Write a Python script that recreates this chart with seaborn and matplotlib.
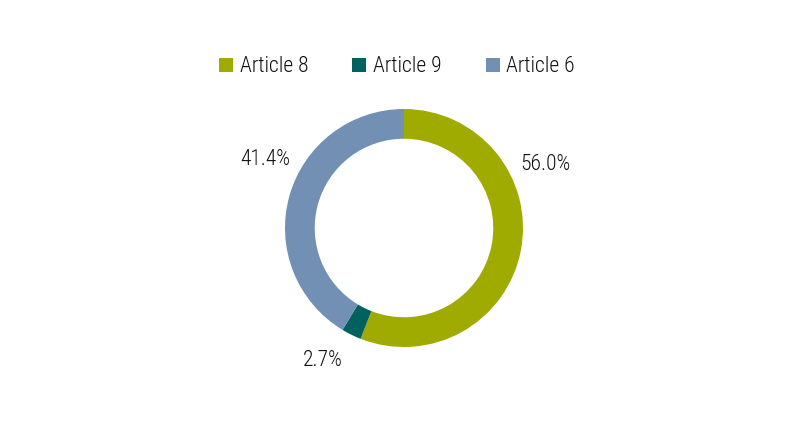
import matplotlib
matplotlib.use("Agg")
import matplotlib.pyplot as plt
import seaborn as sns
import numpy as np
from matplotlib.patches import Patch
from matplotlib import font_manager

categories = ["Article 8", "Article 9", "Article 6"]
values = [56.0, 2.7, 41.4]
colors = ["#a0ab00", "#00615f", "#7290b4"]

sns.set_theme(style="white")
names = {f.name for f in font_manager.fontManager.ttflist}
fam = "DejaVu Sans"
for cand in ["Roboto Condensed", "Liberation Sans Narrow", "Open Sans Condensed"]:
    if cand in names:
        fam = cand
        break
plt.rcParams["font.family"] = [fam, "DejaVu Sans"]
plt.rcParams["font.stretch"] = "condensed"
plt.rcParams["font.weight"] = "light"

fig = plt.figure(figsize=(7.93, 4.48), dpi=100)
ax = fig.add_axes([(404 - 119) / 793, 1 - (228 + 119) / 448, 238 / 793, 238 / 448])

wedges, texts = ax.pie(values, colors=colors, startangle=90, counterclock=False,
                       wedgeprops=dict(width=0.25, edgecolor="none", linewidth=0),
                       labels=[f"{v:.1f}%" for v in values], labeldistance=1.3,
                       textprops=dict(fontsize=15.5, color="#111111", fontweight="light"))
ax.set_aspect("equal")
ax.set_xlim(-1, 1)
ax.set_ylim(-1, 1)

# label placement (angles in degrees, radius in pie units)
label_pos = [(25, 1.31), (238, 1.29), (153, 1.31)]
for t, (ang, r) in zip(texts, label_pos):
    a = np.deg2rad(ang)
    t.set_position((r * np.cos(a), r * np.sin(a)))
    t.set_ha("center")
    t.set_va("center_baseline")

handles = [Patch(facecolor=c, edgecolor="none") for c in colors]
leg = fig.legend(handles, categories, loc="center", bbox_to_anchor=(397 / 793, 1 - 67 / 448),
                 ncol=3, frameon=False, fontsize=15.5, handlelength=0.65, handleheight=0.65,
                 handletextpad=0.3, columnspacing=2.05, labelcolor="#111111")
for t in leg.get_texts():
    t.set_fontweight("light")

fig.savefig("out.png", dpi=100, facecolor="white")
